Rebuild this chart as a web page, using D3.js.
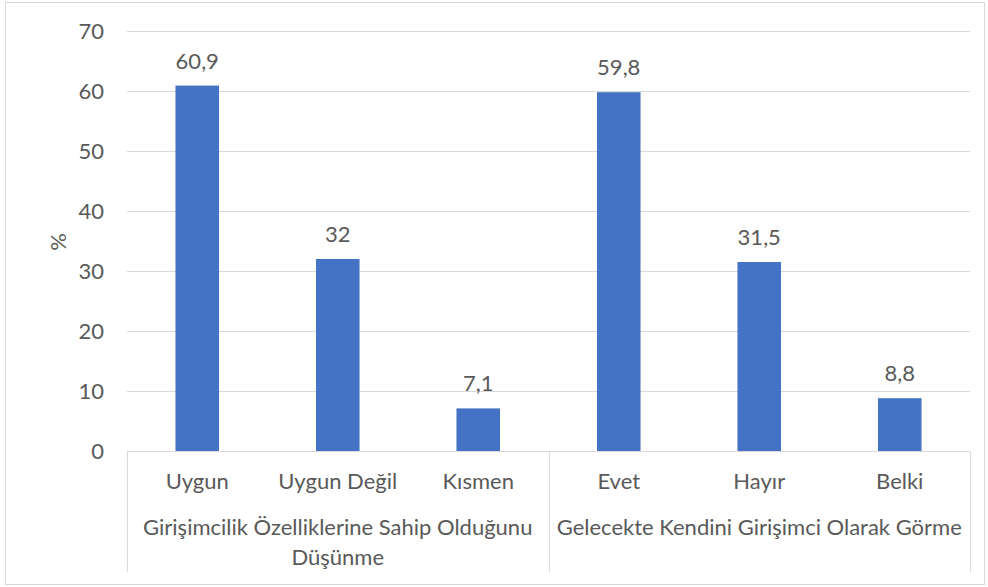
<!DOCTYPE html>
<html lang="tr">
<head>
<meta charset="UTF-8">
<title>Girişimcilik</title>
<script src="https://d3js.org/d3.v7.min.js"></script>
<style>
  body { margin: 0; background: #fff; }
  text { font-family: Lato, "Open Sans", sans-serif; fill: #595959; }
</style>
</head>
<body>
<svg id="chart" width="988" height="587"></svg>
<script>
// data
var categories = ["Uygun", "Uygun Değil", "Kısmen", "Evet", "Hayır", "Belki"];
var values = [60.9, 32, 7.1, 59.8, 31.5, 8.8];
var groups = [
  ["Girişimcilik Özelliklerine Sahip Olduğunu", "Düşünme"],
  ["Gelecekte Kendini Girişimci Olarak Görme"]
];
var groupSize = [3, 3];
var yTicks = [0, 10, 20, 30, 40, 50, 60, 70];

var fs = 22;
var svg = d3.select("#chart");
var margin = {left: 127, right: 18, top: 31, bottom: 136};
var width = 988, height = 587;

// outer border
svg.append("rect")
  .attr("x", 5.5).attr("y", 2.5)
  .attr("width", 979).attr("height", 582)
  .attr("fill", "none").attr("stroke", "#d9d9d9");

var x = d3.scaleBand()
  .domain(categories)
  .range([margin.left, width - margin.right])
  .paddingInner(0.69)
  .paddingOuter(0.345);

var y = d3.scaleLinear()
  .domain([0, 70])
  .range([height - margin.bottom, margin.top]);

// gridlines
svg.append("g")
  .selectAll("line")
  .data(yTicks.slice(1))
  .enter().append("line")
  .attr("x1", margin.left).attr("x2", width - margin.right)
  .attr("y1", function(d) { return Math.round(y(d)) + 0.5; })
  .attr("y2", function(d) { return Math.round(y(d)) + 0.5; })
  .attr("stroke", "#d9d9d9");

// y labels
svg.append("g")
  .selectAll("text")
  .data(yTicks)
  .enter().append("text")
  .attr("x", 104)
  .attr("y", function(d) { return y(d); })
  .attr("dy", "0.36em")
  .attr("text-anchor", "end")
  .attr("font-size", fs)
  .text(function(d) { return d; });

svg.append("text")
  .attr("transform", "translate(66," + (y(35) + 1) + ") rotate(-90)")
  .attr("text-anchor", "middle")
  .attr("font-size", fs)
  .text("%");

// bars
svg.append("g")
  .selectAll("rect")
  .data(values)
  .enter().append("rect")
  .attr("x", function(d, i) { return x(categories[i]); })
  .attr("width", x.bandwidth())
  .attr("y", function(d) { return y(d); })
  .attr("height", function(d) { return y(0) - y(d); })
  .attr("fill", "#4472c4");

// value labels
svg.append("g")
  .selectAll("text")
  .data(values)
  .enter().append("text")
  .attr("x", function(d, i) { return x(categories[i]) + x.bandwidth() / 2; })
  .attr("y", function(d) { return y(d) - 17; })
  .attr("text-anchor", "middle")
  .attr("font-size", fs)
  .text(function(d) { return String(d).replace(".", ","); });

// category axis
var y0 = Math.round(y(0)) + 0.5;
svg.append("line")
  .attr("x1", margin.left).attr("x2", width - margin.right)
  .attr("y1", y0).attr("y2", y0)
  .attr("stroke", "#d9d9d9");

var step = x.step();
var bounds = [0];
groupSize.forEach(function(n) { bounds.push(bounds[bounds.length - 1] + n); });
var x0 = x.range()[0];
svg.append("g")
  .selectAll("line")
  .data(bounds)
  .enter().append("line")
  .attr("x1", function(b) { return Math.round(x0 + b * step) + 0.5; })
  .attr("x2", function(b) { return Math.round(x0 + b * step) + 0.5; })
  .attr("y1", y0).attr("y2", 572)
  .attr("stroke", "#d9d9d9");

svg.append("g")
  .selectAll("text")
  .data(categories)
  .enter().append("text")
  .attr("x", function(d) { return x(d) + x.bandwidth() / 2; })
  .attr("y", 489)
  .attr("text-anchor", "middle")
  .attr("font-size", fs)
  .text(function(d) { return d; });

groups.forEach(function(lines, gi) {
  var cx = x0 + (bounds[gi] + groupSize[gi] / 2) * step;
  var t = svg.append("text")
    .attr("x", cx).attr("y", 535)
    .attr("text-anchor", "middle")
    .attr("font-size", fs);
  lines.forEach(function(l, li) {
    t.append("tspan").attr("x", cx).attr("dy", li === 0 ? 0 : 30).text(l);
  });
});
</script>
</body>
</html>
